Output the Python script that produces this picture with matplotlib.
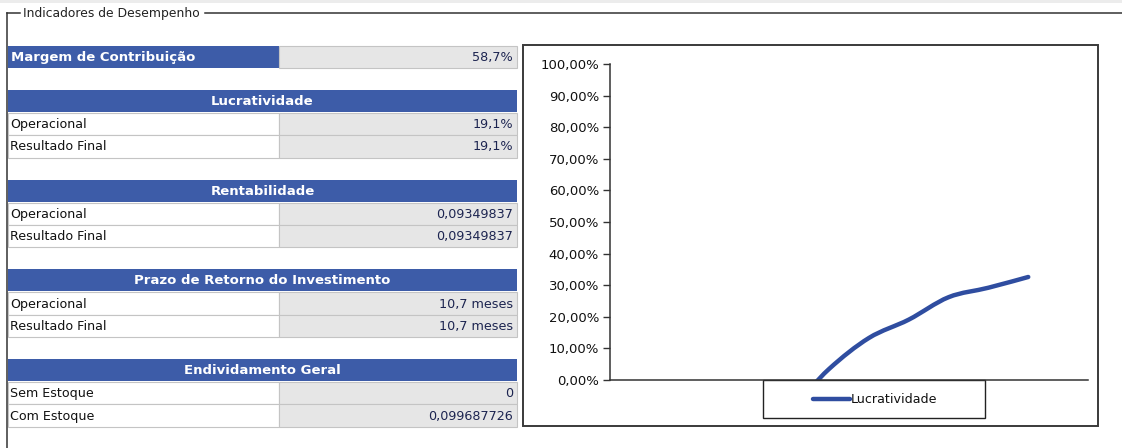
import numpy as np
import matplotlib
matplotlib.use("Agg")
from matplotlib import pyplot as plt
from matplotlib.patches import Rectangle, PathPatch
from matplotlib.path import Path
from matplotlib.ticker import FuncFormatter

plt.rcParams['font.family'] = ['DejaVu Sans']

# --- dados do painel ---
panel_title = "Indicadores de Desempenho"
margem_label = "Margem de Contribuição"
margem_value = "58,7%"

section_titles = ["Lucratividade", "Rentabilidade",
                  "Prazo de Retorno do Investimento", "Endividamento Geral"]
section_rows = [["Operacional", "Resultado Final"],
                ["Operacional", "Resultado Final"],
                ["Operacional", "Resultado Final"],
                ["Sem Estoque", "Com Estoque"]]
section_values = [["19,1%", "19,1%"],
                  ["0,09349837", "0,09349837"],
                  ["10,7 meses", "10,7 meses"],
                  ["0", "0,099687726"]]

# lucratividade acumulada por mês (fração), último mês sem valor
meses = np.arange(1, 13)
lucratividade = [-0.62, -0.45, -0.31, -0.18, -0.095, 0.035,
                 0.133, 0.191, 0.262, 0.292, 0.326, np.nan]

BLUE = "#3d5ca8"
GRAY = "#e6e6e6"
BORDER = "#c4c4c4"
TXT_VAL = "#1c2450"
LINE = "#2f4da0"

W, H = 1122, 448
fig = plt.figure(figsize=(W / 100, H / 100), dpi=100)

# fundo em coordenadas de pixel
bg = fig.add_axes([0, 0, 1, 1])
bg.set_xlim(0, W)
bg.set_ylim(H, 0)
bg.axis("off")

def box(x0, y0, x1, y1, fc, ec="none", lw=1.0, z=1):
    bg.add_patch(Rectangle((x0, y0), x1 - x0, y1 - y0, facecolor=fc,
                           edgecolor=ec, linewidth=lw, zorder=z))

# faixa clara no topo
box(0, 0, W, 3, "#ececec")

# moldura do grupo
bg.plot([7, 20], [13, 13], color="#333333", lw=1.1)
bg.plot([205, W], [13, 13], color="#333333", lw=1.1)
bg.plot([7, 7], [13, H], color="#333333", lw=1.1)
bg.text(23, 14, panel_title, fontsize=8.9, va="center", ha="left", color="#222222")

XL, XM, XR = 8, 279, 517

# margem de contribuição
box(XL, 46, XM, 68, BLUE)
box(XM, 46, XR, 68, GRAY, BORDER, 0.8)
bg.text(11, 58, margem_label, fontsize=9.5, fontweight="bold", color="white",
        va="center", ha="left")
bg.text(513, 58, margem_value, fontsize=9.2, color=TXT_VAL, va="center", ha="right")

# blocos de indicadores
for k, (title, labels, values) in enumerate(zip(section_titles, section_rows, section_values)):
    top = 90 + 89.7 * k
    box(XL, top, XR, top + 22, BLUE)
    bg.text((XL + XR) / 2, top + 11.5, title, fontsize=9.5, fontweight="bold",
            color="white", va="center", ha="center")
    for j, (lab, val) in enumerate(zip(labels, values)):
        y0 = top + 23 + 22.3 * j
        y1 = y0 + 22.3
        box(XL, y0, XM, y1, "white", BORDER, 0.8)
        box(XM, y0, XR, y1, GRAY, BORDER, 0.8)
        bg.text(10, (y0 + y1) / 2 + 0.5, lab, fontsize=9.1, color="#111111",
                va="center", ha="left")
        bg.text(513, (y0 + y1) / 2 + 0.5, val, fontsize=9.2, color=TXT_VAL,
                va="center", ha="right")

# moldura do gráfico e caixa da legenda
box(523, 45, 1098, 426, "none", "#3a3a3a", 1.4, z=3)
box(763, 380, 985, 418, "white", "#222222", 1.0, z=3)
bg.plot([813, 850], [399, 399], color=LINE, lw=3.2, solid_capstyle="round", zorder=4)
bg.text(851, 399.5, "Lucratividade", fontsize=9.1, va="center", ha="left",
        color="#111111", zorder=4)

# gráfico de linha suavizado
ax = fig.add_axes([610 / W, (H - 380) / H, 478 / W, 316 / H])
ax.set_xlim(0.5, 12.5)
ax.set_ylim(0, 1)
ax.patch.set_alpha(0)
for s in ("top", "right"):
    ax.spines[s].set_visible(False)
for s in ("left", "bottom"):
    ax.spines[s].set_color("#333333")
    ax.spines[s].set_linewidth(1.1)
ax.set_xticks([])
ax.set_yticks(np.arange(0, 1.01, 0.1))
ax.yaxis.set_major_formatter(FuncFormatter(lambda v, p: f"{v * 100:.2f}%".replace(".", ",")))
ax.tick_params(axis="y", direction="out", length=5, width=1.0, color="#333333",
               labelsize=9.5, pad=3, labelcolor="#111111")

pts = [(x, y) for x, y in zip(meses, lucratividade) if not np.isnan(y)]
verts, codes = [pts[0]], [Path.MOVETO]
for i in range(len(pts) - 1):
    p0 = np.array(pts[max(i - 1, 0)])
    p1 = np.array(pts[i])
    p2 = np.array(pts[i + 1])
    p3 = np.array(pts[min(i + 2, len(pts) - 1)])
    c1 = p1 + (p2 - p0) / 6
    c2 = p2 - (p3 - p1) / 6
    verts += [tuple(c1), tuple(c2), tuple(p2)]
    codes += [Path.CURVE4] * 3
curve = PathPatch(Path(verts, codes), facecolor="none", edgecolor=LINE,
                  linewidth=3.2, capstyle="round", joinstyle="round")
ax.add_patch(curve)
curve.set_clip_on(True)

fig.savefig("out.png", dpi=100)
